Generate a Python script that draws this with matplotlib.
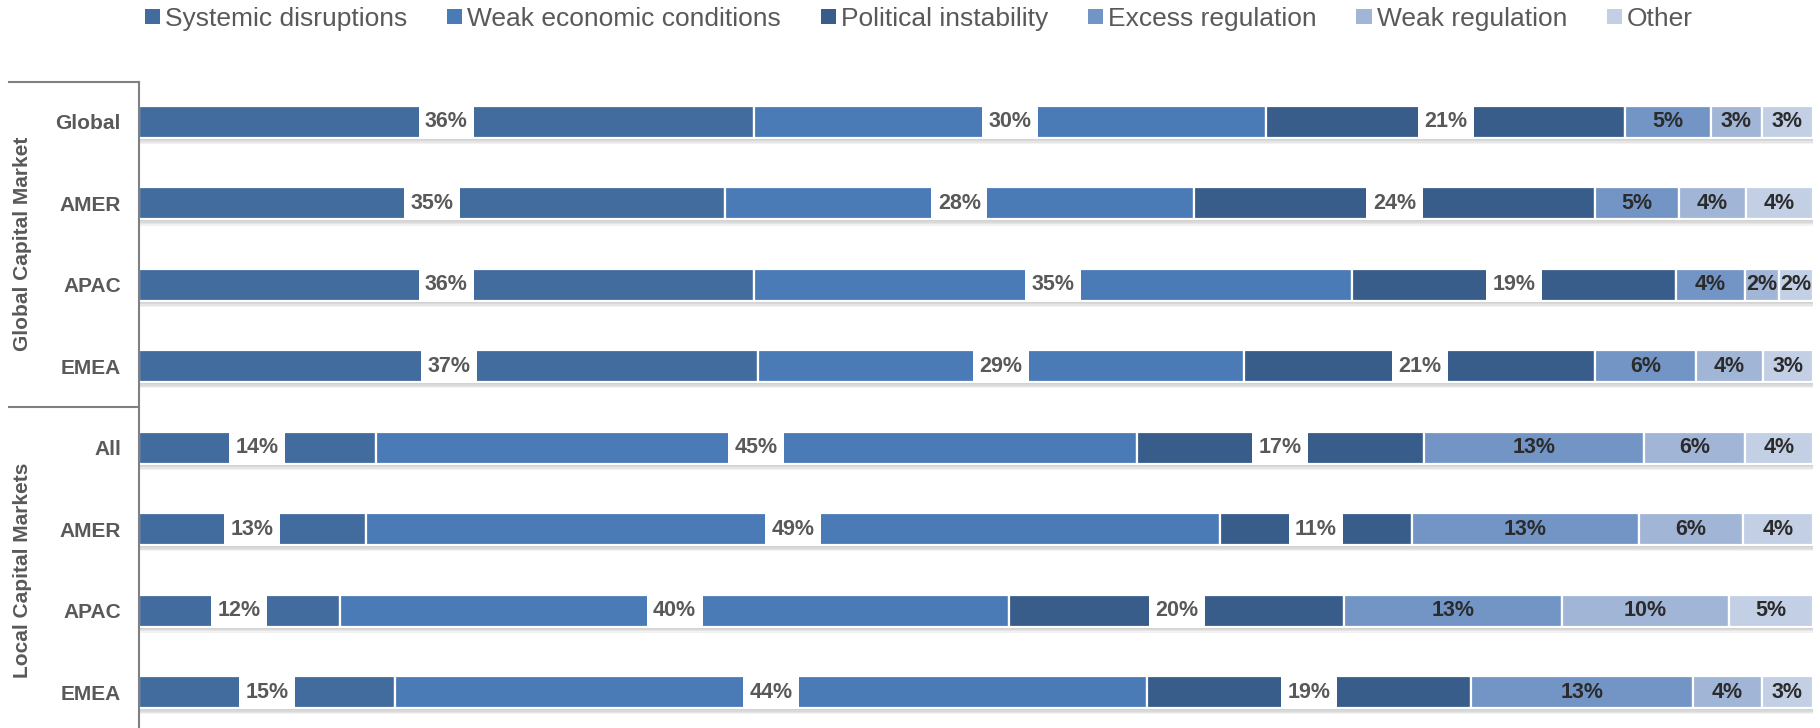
import matplotlib
matplotlib.use('Agg')
import matplotlib.pyplot as plt
import matplotlib.patheffects as pe
from matplotlib.patches import Patch
import numpy as np

plt.rcParams['font.family'] = ['Liberation Sans', 'DejaVu Sans']

# Rows, top to bottom
groups = ['Global Capital Market', 'Local Capital Markets']
rows = ['Global', 'AMER', 'APAC', 'EMEA', 'All', 'AMER', 'APAC', 'EMEA']

# Share of responses per driver (%)
series_names = ['Systemic disruptions', 'Weak economic conditions', 'Political instability',
                'Excess regulation', 'Weak regulation', 'Other']
systemic = [36, 35, 36, 37, 14, 13, 12, 15]
weak_econ = [30, 28, 35, 29, 45, 49, 40, 44]
political = [21, 24, 19, 21, 17, 11, 20, 19]
excess_reg = [5, 5, 4, 6, 13, 13, 13, 13]
weak_reg = [3, 4, 2, 4, 6, 6, 10, 4]
other = [3, 4, 2, 3, 4, 4, 5, 3]

colors = ['#426B9E', '#4A7BB7', '#385D8A', '#7295C6', '#A1B5D7', '#C2CFE5']

values = np.array([systemic, weak_econ, political, excess_reg, weak_reg, other], dtype=float)
# 100% stacked: each row is scaled to its own total
shares = values / values.sum(axis=0) * 100

fig = plt.figure(figsize=(18.2, 7.28), dpi=100)
ax = fig.add_axes([139 / 1820, 0.0, 1674 / 1820, 646 / 728])

y = np.arange(len(rows))
bar_h = 0.39
shadow = [pe.SimplePatchShadow(offset=(0.5, -k), shadow_rgbFace='black', alpha=0.05) for k in (1.5, 2.5, 3.5, 4.5)]

left = np.zeros(len(rows))
for i, name in enumerate(series_names):
    bars = ax.barh(y, shares[i], left=left, height=bar_h, color=colors[i],
                   edgecolor='white', linewidth=1.6, label=name)
    for b in bars:
        b.set_path_effects(shadow + [pe.Normal()])
    for j in range(len(rows)):
        cx = left[j] + shares[i][j] / 2
        txt = f'{int(values[i][j])}%'
        if i < 3:
            ax.text(cx, y[j], txt, ha='center', va='center', fontsize=15.5, fontweight='bold',
                    color='#595959',
                    bbox=dict(boxstyle='square,pad=0.3', fc='white', ec='none'))
        else:
            ax.text(cx, y[j], txt, ha='center', va='center', fontsize=15.5, fontweight='bold',
                    color='#2b2b2b')
    left += shares[i]

ax.set_xlim(0, 100)
ax.set_ylim(7.44, -0.49)
ax.set_yticks(y)
ax.set_yticklabels(rows, fontsize=15, fontweight='bold', color='#595959')
ax.tick_params(axis='y', length=0, pad=13)
ax.set_xticks([])
for s in ['top', 'right', 'bottom']:
    ax.spines[s].set_visible(False)
ax.spines['left'].set_color('#808080')
ax.spines['left'].set_linewidth(1.5)

# group brackets and titles on the left
trans = ax.get_yaxis_transform()
for yy in (-0.49, 3.5):
    ax.plot([-0.0777, 0], [yy, yy], color='#808080', lw=1.5, transform=trans, clip_on=False)
for g, yy in zip(groups, (1.5, 5.5)):
    ax.text(-0.0693, yy, g, rotation=90, ha='center', va='center', fontsize=15,
            fontweight='bold', color='#595959', transform=trans)

handles = [Patch(facecolor=c, edgecolor='none') for c in colors]
fig.legend(handles, series_names, loc='center left', bbox_to_anchor=(145 / 1820, 1 - 19 / 728),
           ncol=6, frameon=False, handlelength=0.57, handleheight=0.53, handletextpad=0.2,
           columnspacing=1.5, borderaxespad=0, borderpad=0,
           prop={'family': ['Liberation Sans', 'DejaVu Sans'], 'size': 19},
           labelcolor='#595959')

fig.savefig('out.png', dpi=100)
